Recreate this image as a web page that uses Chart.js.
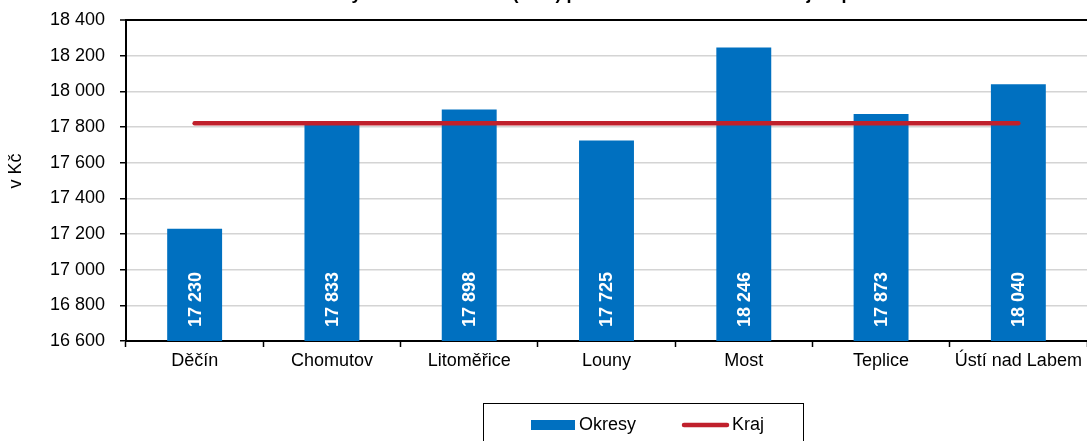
<!DOCTYPE html>
<html>
<head>
<meta charset="utf-8">
<script src="https://cdn.jsdelivr.net/npm/chart.js@4.4.1/dist/chart.umd.min.js"></script>
<style>
html,body{margin:0;padding:0;background:#fff;}
#wrap{width:1087px;height:441px;position:relative;}
</style>
</head>
<body>
<div id="wrap"><canvas id="c" width="1087" height="441"></canvas></div>
<script>
const categories = ['Děčín','Chomutov','Litoměřice','Louny','Most','Teplice','Ústí nad Labem'];
const okresy = [17230, 17833, 17898, 17725, 18246, 17873, 18040];
const kraj = [17821, 17821, 17821, 17821, 17821, 17821, 17821];
const yMin = 16600, yMax = 18400, yStep = 200;
const titleText = 'Průměrný starobní důchod (sólo) podle okresů Ústeckého kraje v prosinci 2021';
const yTitle = 'v Kč';

const FONT = '"Liberation Sans", Arial, sans-serif';
const BLUE = '#0070C0';
const RED = '#C0202C';
const fmt = v => String(Math.round(v)).replace(/\B(?=(\d{3})+(?!\d))/g, ' ');

const extras = {
  id: 'extras',
  afterDatasetsDraw(chart) {
    const ctx = chart.ctx;
    const meta = chart.getDatasetMeta(1);
    ctx.save();
    ctx.fillStyle = '#fff';
    ctx.font = 'bold 18px ' + FONT;
    ctx.textAlign = 'left';
    ctx.textBaseline = 'middle';
    meta.data.forEach((bar, i) => {
      ctx.save();
      ctx.translate(bar.x + 1, chart.chartArea.bottom - 14);
      ctx.rotate(-Math.PI / 2);
      ctx.fillText(fmt(okresy[i]), 0, 0);
      ctx.restore();
    });
    ctx.restore();
  },
  afterDraw(chart) {
    const ctx = chart.ctx;
    ctx.save();
    // title (clipped at top)
    ctx.fillStyle = '#000';
    ctx.font = 'bold 18px ' + FONT;
    ctx.textAlign = 'center';
    ctx.textBaseline = 'alphabetic';
    ctx.fillText(titleText, 617, -1);
    // y title
    ctx.font = '18px ' + FONT;
    ctx.save();
    ctx.translate(16, 171);
    ctx.rotate(-Math.PI / 2);
    ctx.textAlign = 'center';
    ctx.textBaseline = 'middle';
    ctx.fillText(yTitle, 0, 0);
    ctx.restore();
    // legend
    ctx.strokeStyle = '#000';
    ctx.lineWidth = 1;
    ctx.strokeRect(483.5, 403.5, 320, 60);
    ctx.fillStyle = BLUE;
    ctx.fillRect(531, 420, 44, 10);
    ctx.fillStyle = '#000';
    ctx.textAlign = 'left';
    ctx.textBaseline = 'middle';
    ctx.font = '18px ' + FONT;
    ctx.fillText(chart.data.datasets[1].label, 579, 425);
    ctx.strokeStyle = RED;
    ctx.lineWidth = 4.5;
    ctx.lineCap = 'round';
    ctx.beginPath();
    ctx.moveTo(684, 425);
    ctx.lineTo(727, 425);
    ctx.stroke();
    ctx.fillText(chart.data.datasets[0].label, 732, 425);
    ctx.restore();
  }
};

new Chart(document.getElementById('c'), {
  data: {
    labels: categories,
    datasets: [
      {
        type: 'line', label: 'Kraj', data: kraj, order: 1,
        borderColor: RED, borderWidth: 4.5, borderCapStyle: 'round',
        pointRadius: 0, pointHoverRadius: 0, fill: false, tension: 0
      },
      {
        type: 'bar', label: 'Okresy', data: okresy, order: 2,
        backgroundColor: BLUE, borderWidth: 0,
        barPercentage: 0.4, categoryPercentage: 1.0
      }
    ]
  },
  options: {
    responsive: false,
    animation: false,
    devicePixelRatio: 1,
    layout: { padding: { left: 0, right: -4, top: 20, bottom: 60 } },
    plugins: { legend: { display: false }, tooltip: { enabled: false }, title: { display: false } },
    scales: {
      x: {
        afterFit(s) { s.height = 40; s.paddingLeft = 0; s.paddingRight = 0; },
        grid: { offset: true, drawOnChartArea: false, drawTicks: true, tickLength: 6, tickColor: '#000', tickWidth: 1.5 },
        border: { color: '#000', width: 2 },
        ticks: { color: '#000', font: { family: FONT, size: 18 }, padding: 3, maxRotation: 0, autoSkip: false }
      },
      y: {
        min: yMin, max: yMax,
        afterFit(s) { s.width = 126; s.paddingTop = 0; s.paddingBottom = 0; },
        grid: {
          color: c => (c.tick && c.tick.value === yMax) ? '#000' : '#d4d4d4',
          lineWidth: c => (c.tick && c.tick.value === yMax) ? 2 : 1.5,
          tickColor: '#000', tickWidth: 1.5, tickLength: 6, drawTicks: true
        },
        border: { color: '#000', width: 2 },
        ticks: {
          stepSize: yStep, color: '#000', padding: 15,
          font: { family: FONT, size: 18 },
          callback: v => fmt(v)
        }
      }
    }
  },
  plugins: [extras]
});
</script>
</body>
</html>
